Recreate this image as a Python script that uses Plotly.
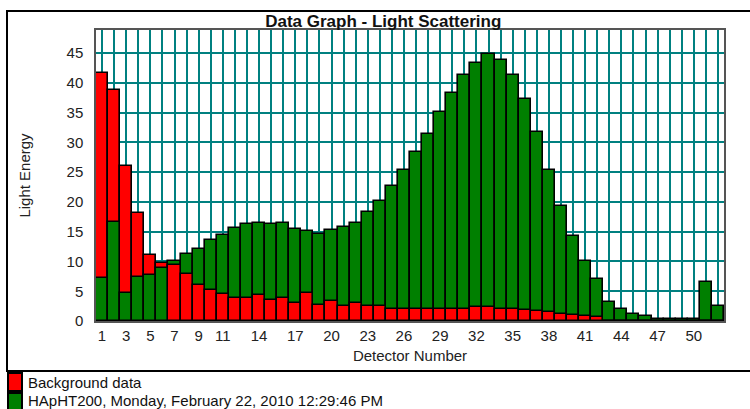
import plotly.graph_objects as go

# ---- data -------------------------------------------------------------
DETECTORS = list(range(1, 53))

BACKGROUND = [41.7, 38.8, 26.1, 18.1, 11.1, 9.7, 9.4, 7.9, 6.05, 5.2,
              4.5, 3.9, 3.9, 4.4, 3.5, 3.8, 2.95, 4.65, 2.7, 3.35,
              2.5, 2.95, 2.5, 2.5, 2.0, 2.1, 2.0, 2.0, 2.0, 2.0,
              2.0, 2.3, 2.3, 2.05, 2.0, 1.85, 1.7, 1.5, 1.2, 1.0,
              0.9, 0.75, 0.0, 0.0, 0.0, 0.0, 0.0, 0.0, 0.0, 0.0,
              0.0, 0.0]

SAMPLE = [7.2, 16.7, 4.65, 7.45, 7.7, 8.85, 10.1, 11.2, 12.05, 13.6,
          14.45, 15.7, 16.3, 16.5, 16.3, 16.5, 15.45, 15.1, 14.7, 15.3,
          15.75, 16.5, 18.25, 20.2, 22.75, 25.3, 28.45, 31.4, 35.2, 38.3,
          41.3, 43.4, 44.8, 43.9, 41.35, 37.3, 31.7, 25.3, 19.3, 14.35,
          10.1, 7.05, 3.15, 2.0, 1.2, 0.85, 0.3, 0.3, 0.3, 0.3,
          6.5, 2.6]

TICK_LABELS = [1, 3, 5, 7, 9, 11, 14, 17, 20, 23, 26, 29, 32, 35, 38, 41, 44, 47, 50]
Y_TICKS = [0, 5, 10, 15, 20, 25, 30, 35, 40, 45]

BG_NAME = "Background data"
SAMPLE_NAME = "HApHT200, Monday, February 22, 2010 12:29:46 PM"

RED = "#ff0000"
GREEN = "#007f00"
TEAL = "#008080"
FONT = "Liberation Sans, Arial, sans-serif"

# plot-area geometry in pixels (for placing the legend swatches)
W, H = 750, 409
L, T, PW, PH = 96, 30, 628, 291


def px(x):
    return (x - L) / PW


def py(y):
    return (T + PH - y) / PH


# smaller bar of each pair is drawn in front
front_sample = [s if s < b else None for s, b in zip(SAMPLE, BACKGROUND)]

line = dict(color="black", width=1.6)

fig = go.Figure()
fig.add_trace(go.Bar(x=DETECTORS, y=SAMPLE, name=SAMPLE_NAME,
                     marker=dict(color=GREEN, line=line)))
fig.add_trace(go.Bar(x=DETECTORS, y=BACKGROUND, name=BG_NAME,
                     marker=dict(color=RED, line=line)))
fig.add_trace(go.Bar(x=DETECTORS, y=front_sample, name=SAMPLE_NAME,
                     marker=dict(color=GREEN, line=line), hoverinfo="skip"))

ticktext = [str(d) if d in TICK_LABELS else "" for d in DETECTORS]

# legend drawn as swatches + labels (like the original chart)
legend_items = [(BG_NAME, RED, 373, 391, 382), (SAMPLE_NAME, GREEN, 393, 414, 400)]
shapes = [dict(type="rect", xref="paper", yref="paper",
               x0=px(7), x1=px(W + 10), y0=py(371), y1=py(11),
               line=dict(color="black", width=2), layer="above")]
annotations = []
for name, color, top, bottom, mid in legend_items:
    shapes.append(dict(type="rect", xref="paper", yref="paper",
                       x0=px(8), x1=px(22), y0=py(bottom), y1=py(top),
                       fillcolor=color, line=dict(color="black", width=2), layer="above"))
    annotations.append(dict(text=name, xref="paper", yref="paper",
                            x=px(26), y=py(mid), xanchor="left", yanchor="middle",
                            showarrow=False, font=dict(size=15, color="#111")))

fig.update_layout(
    width=W, height=H,
    margin=dict(l=L, r=W - L - PW, t=T, b=H - T - PH, autoexpand=False),
    paper_bgcolor="white", plot_bgcolor="white",
    barmode="overlay", bargap=0, showlegend=False,
    font=dict(family=FONT, size=15, color="#222"),
    title=dict(text="<b>Data Graph - Light Scattering</b>",
               x=0.511, xref="container", xanchor="center",
               y=1 - 21.5 / H, yref="container", yanchor="middle",
               font=dict(size=17, color="#111")),
    xaxis=dict(range=[0.5, 52.5], tickmode="array", tickvals=DETECTORS, ticktext=ticktext,
               showgrid=True, gridcolor=TEAL, gridwidth=2, zeroline=False,
               showline=True, linecolor="#555", linewidth=1.5, mirror=True,
               ticks="", ticklabelstandoff=0, automargin=False,
               title=dict(text="Detector Number", standoff=8, font=dict(size=15))),
    yaxis=dict(range=[0, 48.9], tickmode="array", tickvals=Y_TICKS,
               showgrid=True, gridcolor=TEAL, gridwidth=2, zeroline=False,
               showline=True, linecolor="#555", linewidth=1.5, mirror=True,
               ticks="", ticklabelstandoff=8, automargin=False,
               title=dict(text="Light Energy", standoff=32, font=dict(size=15))),
    shapes=shapes,
    annotations=annotations,
)

fig.write_html("out.html", config={"displayModeBar": False},
               post_script="document.body.style.margin='0';")
